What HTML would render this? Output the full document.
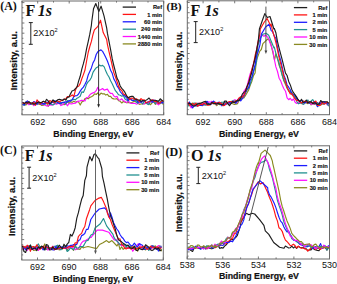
<!DOCTYPE html>
<html><head><meta charset="utf-8"><style>
html,body{margin:0;padding:0;background:#fff;width:337px;height:284px;overflow:hidden}
svg{display:block;font-family:"Liberation Sans", sans-serif}
</style></head><body>
<svg width="337" height="284" viewBox="0 0 337 284">
<rect x="22.0" y="1.0" width="141.7" height="113.8" fill="none" stroke="#6a6a6a" stroke-width="1"/>
<line x1="22.0" y1="114.8" x2="22.0" y2="113.2" stroke="#6a6a6a" stroke-width="0.9"/>
<line x1="22.0" y1="1.0" x2="22.0" y2="2.6" stroke="#6a6a6a" stroke-width="0.9"/>
<line x1="37.7" y1="114.8" x2="37.7" y2="112.3" stroke="#6a6a6a" stroke-width="0.9"/>
<line x1="37.7" y1="1.0" x2="37.7" y2="3.5" stroke="#6a6a6a" stroke-width="0.9"/>
<text x="37.7" y="124.7" font-size="9" text-anchor="middle" fill="#111">692</text>
<line x1="53.5" y1="114.8" x2="53.5" y2="113.2" stroke="#6a6a6a" stroke-width="0.9"/>
<line x1="53.5" y1="1.0" x2="53.5" y2="2.6" stroke="#6a6a6a" stroke-width="0.9"/>
<line x1="69.2" y1="114.8" x2="69.2" y2="112.3" stroke="#6a6a6a" stroke-width="0.9"/>
<line x1="69.2" y1="1.0" x2="69.2" y2="3.5" stroke="#6a6a6a" stroke-width="0.9"/>
<text x="69.2" y="124.7" font-size="9" text-anchor="middle" fill="#111">690</text>
<line x1="85.0" y1="114.8" x2="85.0" y2="113.2" stroke="#6a6a6a" stroke-width="0.9"/>
<line x1="85.0" y1="1.0" x2="85.0" y2="2.6" stroke="#6a6a6a" stroke-width="0.9"/>
<line x1="100.7" y1="114.8" x2="100.7" y2="112.3" stroke="#6a6a6a" stroke-width="0.9"/>
<line x1="100.7" y1="1.0" x2="100.7" y2="3.5" stroke="#6a6a6a" stroke-width="0.9"/>
<text x="100.7" y="124.7" font-size="9" text-anchor="middle" fill="#111">688</text>
<line x1="116.5" y1="114.8" x2="116.5" y2="113.2" stroke="#6a6a6a" stroke-width="0.9"/>
<line x1="116.5" y1="1.0" x2="116.5" y2="2.6" stroke="#6a6a6a" stroke-width="0.9"/>
<line x1="132.2" y1="114.8" x2="132.2" y2="112.3" stroke="#6a6a6a" stroke-width="0.9"/>
<line x1="132.2" y1="1.0" x2="132.2" y2="3.5" stroke="#6a6a6a" stroke-width="0.9"/>
<text x="132.2" y="124.7" font-size="9" text-anchor="middle" fill="#111">686</text>
<line x1="148.0" y1="114.8" x2="148.0" y2="113.2" stroke="#6a6a6a" stroke-width="0.9"/>
<line x1="148.0" y1="1.0" x2="148.0" y2="2.6" stroke="#6a6a6a" stroke-width="0.9"/>
<line x1="163.7" y1="114.8" x2="163.7" y2="112.3" stroke="#6a6a6a" stroke-width="0.9"/>
<line x1="163.7" y1="1.0" x2="163.7" y2="3.5" stroke="#6a6a6a" stroke-width="0.9"/>
<text x="163.7" y="124.7" font-size="9" text-anchor="middle" fill="#111">684</text>
<line x1="22.0" y1="2.6" x2="24.4" y2="2.6" stroke="#6a6a6a" stroke-width="0.9"/>
<line x1="22.0" y1="7.7" x2="23.4" y2="7.7" stroke="#6a6a6a" stroke-width="0.9"/>
<line x1="22.0" y1="12.8" x2="24.4" y2="12.8" stroke="#6a6a6a" stroke-width="0.9"/>
<line x1="22.0" y1="17.9" x2="23.4" y2="17.9" stroke="#6a6a6a" stroke-width="0.9"/>
<line x1="22.0" y1="23.0" x2="24.4" y2="23.0" stroke="#6a6a6a" stroke-width="0.9"/>
<line x1="22.0" y1="28.1" x2="23.4" y2="28.1" stroke="#6a6a6a" stroke-width="0.9"/>
<line x1="22.0" y1="33.2" x2="24.4" y2="33.2" stroke="#6a6a6a" stroke-width="0.9"/>
<line x1="22.0" y1="38.3" x2="23.4" y2="38.3" stroke="#6a6a6a" stroke-width="0.9"/>
<line x1="22.0" y1="43.4" x2="24.4" y2="43.4" stroke="#6a6a6a" stroke-width="0.9"/>
<line x1="22.0" y1="48.5" x2="23.4" y2="48.5" stroke="#6a6a6a" stroke-width="0.9"/>
<line x1="22.0" y1="53.6" x2="24.4" y2="53.6" stroke="#6a6a6a" stroke-width="0.9"/>
<line x1="22.0" y1="58.7" x2="23.4" y2="58.7" stroke="#6a6a6a" stroke-width="0.9"/>
<line x1="22.0" y1="63.8" x2="24.4" y2="63.8" stroke="#6a6a6a" stroke-width="0.9"/>
<line x1="22.0" y1="68.9" x2="23.4" y2="68.9" stroke="#6a6a6a" stroke-width="0.9"/>
<line x1="22.0" y1="74.0" x2="24.4" y2="74.0" stroke="#6a6a6a" stroke-width="0.9"/>
<line x1="22.0" y1="79.1" x2="23.4" y2="79.1" stroke="#6a6a6a" stroke-width="0.9"/>
<line x1="22.0" y1="84.2" x2="24.4" y2="84.2" stroke="#6a6a6a" stroke-width="0.9"/>
<line x1="22.0" y1="89.3" x2="23.4" y2="89.3" stroke="#6a6a6a" stroke-width="0.9"/>
<line x1="22.0" y1="94.4" x2="24.4" y2="94.4" stroke="#6a6a6a" stroke-width="0.9"/>
<line x1="22.0" y1="99.5" x2="23.4" y2="99.5" stroke="#6a6a6a" stroke-width="0.9"/>
<line x1="22.0" y1="104.6" x2="24.4" y2="104.6" stroke="#6a6a6a" stroke-width="0.9"/>
<line x1="22.0" y1="109.7" x2="23.4" y2="109.7" stroke="#6a6a6a" stroke-width="0.9"/>
<text x="93.3" y="137.3" font-size="8.8" font-weight="bold" text-anchor="middle" fill="#111" stroke="#111" stroke-width="0.2">Binding Energy, eV</text>
<text transform="translate(17.3,60.7) rotate(-90)" font-size="9.40" font-weight="bold" text-anchor="middle" fill="#111" stroke="#111" stroke-width="0.2">Intensity, a.u.</text>
<polyline fill="none" stroke="#8a8a22" stroke-width="1.15" stroke-linejoin="round" points="22.6,102.6 24.2,104.0 25.8,105.1 27.4,103.6 29.0,102.3 30.6,103.4 32.2,104.3 33.8,105.1 35.4,102.8 37.0,102.1 38.6,104.2 40.2,104.4 41.8,105.5 43.4,105.2 45.0,103.8 46.6,103.3 48.2,106.3 49.8,104.0 51.4,102.7 53.0,102.1 54.6,103.3 56.2,103.7 57.8,103.2 59.4,103.3 61.0,103.7 62.6,104.2 64.2,104.7 65.8,103.8 67.4,101.4 69.0,103.4 70.6,101.7 72.2,102.4 73.8,101.1 75.4,102.2 77.0,101.4 78.6,102.0 80.2,105.1 81.8,101.9 83.4,101.3 85.0,98.6 86.6,98.3 88.2,98.8 89.8,97.4 91.4,96.8 93.0,95.8 94.6,93.8 96.2,94.5 97.8,92.9 99.4,95.1 101.0,93.1 102.6,93.9 104.2,93.8 105.8,95.1 107.4,94.3 109.0,96.4 110.6,96.4 112.2,98.4 113.8,98.9 115.4,99.0 117.0,98.6 118.6,100.7 120.2,101.3 121.8,103.0 123.4,101.5 125.0,102.3 126.6,102.7 128.2,102.6 129.8,102.6 131.4,102.7 133.0,101.9 134.6,101.3 136.2,101.9 137.8,103.1 139.4,104.4 141.0,104.0 142.6,104.0 144.2,103.7 145.8,103.5 147.4,102.9 149.0,103.4 150.6,104.7 152.2,102.7 153.8,101.7 155.4,104.4 157.0,103.3 158.6,103.6 160.2,103.7 161.8,101.5 163.4,104.8"/>
<polyline fill="none" stroke="#ff10ff" stroke-width="1.15" stroke-linejoin="round" points="22.6,102.4 24.2,103.8 25.8,103.7 27.4,103.3 29.0,104.8 30.6,104.2 32.2,103.5 33.8,105.7 35.4,103.7 37.0,102.3 38.6,101.9 40.2,102.8 41.8,104.3 43.4,104.8 45.0,105.1 46.6,105.9 48.2,106.0 49.8,104.8 51.4,105.2 53.0,104.6 54.6,103.1 56.2,104.3 57.8,103.8 59.4,103.3 61.0,105.6 62.6,104.8 64.2,103.0 65.8,103.1 67.4,105.8 69.0,103.5 70.6,103.8 72.2,103.8 73.8,103.4 75.4,103.2 77.0,101.8 78.6,101.1 80.2,100.9 81.8,100.2 83.4,100.6 85.0,100.9 86.6,97.5 88.2,97.3 89.8,94.9 91.4,93.5 93.0,92.9 94.6,92.3 96.2,90.7 97.8,87.3 99.4,90.5 101.0,89.4 102.6,88.5 104.2,90.1 105.8,89.6 107.4,89.1 109.0,91.9 110.6,93.5 112.2,93.3 113.8,95.9 115.4,97.0 117.0,96.3 118.6,100.0 120.2,100.0 121.8,98.8 123.4,100.8 125.0,101.4 126.6,102.6 128.2,100.6 129.8,102.8 131.4,103.5 133.0,103.4 134.6,103.3 136.2,104.1 137.8,103.7 139.4,102.9 141.0,101.7 142.6,103.6 144.2,104.0 145.8,103.2 147.4,102.8 149.0,103.4 150.6,100.0 152.2,102.2 153.8,99.9 155.4,102.1 157.0,103.8 158.6,104.9 160.2,102.5 161.8,102.8 163.4,102.5"/>
<polyline fill="none" stroke="#219090" stroke-width="1.15" stroke-linejoin="round" points="22.6,103.6 24.2,105.3 25.8,103.2 27.4,101.5 29.0,103.4 30.6,104.3 32.2,104.2 33.8,104.2 35.4,103.5 37.0,102.8 38.6,102.5 40.2,103.0 41.8,102.9 43.4,104.3 45.0,104.2 46.6,102.1 48.2,103.6 49.8,103.3 51.4,104.3 53.0,105.0 54.6,104.0 56.2,101.1 57.8,103.0 59.4,101.2 61.0,103.9 62.6,102.2 64.2,102.0 65.8,104.1 67.4,100.5 69.0,101.2 70.6,100.1 72.2,99.9 73.8,99.2 75.4,99.9 77.0,98.2 78.6,97.4 80.2,96.3 81.8,91.9 83.4,92.4 85.0,88.9 86.6,84.1 88.2,81.6 89.8,80.3 91.4,77.5 93.0,72.4 94.6,69.9 96.2,67.8 97.8,67.0 99.4,65.0 101.0,66.0 102.6,65.4 104.2,66.9 105.8,71.1 107.4,74.5 109.0,77.0 110.6,80.8 112.2,83.8 113.8,87.3 115.4,90.7 117.0,92.5 118.6,94.8 120.2,95.3 121.8,96.2 123.4,95.4 125.0,98.9 126.6,99.9 128.2,100.9 129.8,98.8 131.4,100.0 133.0,100.6 134.6,99.4 136.2,102.1 137.8,103.3 139.4,100.8 141.0,102.0 142.6,104.0 144.2,101.1 145.8,102.8 147.4,104.1 149.0,104.6 150.6,101.1 152.2,100.6 153.8,102.1 155.4,103.6 157.0,101.1 158.6,101.0 160.2,100.8 161.8,103.1 163.4,101.9"/>
<polyline fill="none" stroke="#1c1cff" stroke-width="1.15" stroke-linejoin="round" points="22.6,104.8 24.2,104.9 25.8,102.2 27.4,100.9 29.0,102.7 30.6,104.1 32.2,103.3 33.8,101.6 35.4,102.3 37.0,104.6 38.6,102.0 40.2,103.8 41.8,103.8 43.4,103.6 45.0,103.8 46.6,102.4 48.2,102.4 49.8,104.5 51.4,102.6 53.0,101.9 54.6,100.7 56.2,101.4 57.8,102.8 59.4,103.5 61.0,102.9 62.6,102.5 64.2,102.3 65.8,101.7 67.4,102.1 69.0,100.6 70.6,101.1 72.2,99.6 73.8,96.8 75.4,95.7 77.0,95.6 78.6,94.0 80.2,91.1 81.8,88.9 83.4,87.1 85.0,84.2 86.6,80.9 88.2,75.0 89.8,71.5 91.4,67.9 93.0,62.9 94.6,60.0 96.2,54.5 97.8,51.7 99.4,50.6 101.0,49.9 102.6,51.4 104.2,54.3 105.8,57.5 107.4,61.0 109.0,65.4 110.6,70.3 112.2,73.3 113.8,78.9 115.4,81.8 117.0,85.8 118.6,88.1 120.2,91.6 121.8,93.5 123.4,95.1 125.0,96.0 126.6,97.8 128.2,100.4 129.8,97.8 131.4,99.9 133.0,100.5 134.6,100.1 136.2,99.2 137.8,102.2 139.4,101.6 141.0,102.2 142.6,101.1 144.2,100.4 145.8,102.3 147.4,102.5 149.0,101.4 150.6,101.3 152.2,102.2 153.8,101.0 155.4,100.6 157.0,101.5 158.6,102.8 160.2,102.9 161.8,102.2 163.4,103.3"/>
<polyline fill="none" stroke="#ff1414" stroke-width="1.15" stroke-linejoin="round" points="22.6,103.4 24.2,103.2 25.8,103.1 27.4,102.4 29.0,103.1 30.6,103.0 32.2,104.1 33.8,102.0 35.4,105.3 37.0,99.9 38.6,101.8 40.2,103.6 41.8,102.5 43.4,101.5 45.0,102.0 46.6,102.9 48.2,103.6 49.8,100.6 51.4,101.6 53.0,101.0 54.6,102.5 56.2,101.0 57.8,101.1 59.4,102.1 61.0,100.6 62.6,100.5 64.2,99.1 65.8,98.9 67.4,96.6 69.0,96.6 70.6,96.3 72.2,94.9 73.8,96.5 75.4,90.3 77.0,86.6 78.6,86.2 80.2,83.6 81.8,78.7 83.4,74.6 85.0,70.0 86.6,61.0 88.2,52.5 89.8,46.5 91.4,41.4 93.0,34.4 94.4,29.9 97.9,26.4 100.5,20.2 103.2,32.6 106.7,39.6 107.4,44.3 109.0,51.6 110.6,58.4 112.2,65.5 113.8,72.6 115.4,76.8 117.0,81.5 118.6,86.4 120.2,89.3 121.8,90.6 123.4,94.0 125.0,94.7 126.6,95.8 128.2,97.4 129.8,99.7 131.4,98.0 133.0,98.4 134.6,99.5 136.2,98.8 137.8,99.8 139.4,101.6 141.0,98.6 142.6,100.0 144.2,99.8 145.8,102.8 147.4,102.0 149.0,101.7 150.6,101.0 152.2,99.8 153.8,100.9 155.4,101.6 157.0,101.3 158.6,103.3 160.2,102.7 161.8,100.5 163.4,100.7"/>
<polyline fill="none" stroke="#1e1e1e" stroke-width="1.15" stroke-linejoin="round" points="22.6,102.2 24.2,103.7 25.8,102.1 27.4,103.2 29.0,101.6 30.6,103.2 32.2,102.8 33.8,104.1 35.4,103.8 37.0,102.7 38.6,102.0 40.2,102.6 41.8,102.2 43.4,101.1 45.0,102.3 46.6,99.3 48.2,100.9 49.8,103.7 51.4,102.4 53.0,99.8 54.6,101.7 56.2,101.2 57.8,99.8 59.4,99.3 61.0,99.8 62.6,100.3 64.2,99.0 65.8,100.1 67.4,97.2 69.0,97.1 70.6,93.6 72.2,90.8 73.8,90.5 75.4,88.7 77.0,87.1 78.6,81.1 80.2,76.3 81.8,69.2 83.4,63.7 85.0,57.3 86.6,48.6 88.2,41.7 89.8,34.2 91.4,25.3 91.7,22.0 93.5,8.8 95.8,3.5 98.8,11.4 101.1,6.2 104.0,15.8 106.7,28.2 107.4,33.2 109.0,41.3 110.6,49.6 112.2,58.7 113.8,65.5 115.4,71.7 117.0,78.1 118.6,81.0 120.2,86.2 121.8,88.3 123.4,90.1 125.0,92.4 126.6,95.8 128.2,98.1 129.8,96.8 131.4,96.4 133.0,96.3 134.6,98.4 136.2,99.6 137.8,100.0 139.4,100.0 141.0,101.4 142.6,100.5 144.2,100.7 145.8,100.2 147.4,99.4 149.0,98.0 150.6,100.1 152.2,100.2 153.8,100.2 155.4,100.2 157.0,100.9 158.6,101.2 160.2,98.8 161.8,100.2 163.4,101.6"/>
<line x1="98.6" y1="2.0" x2="98.6" y2="105.8" stroke="#222" stroke-width="0.9"/>
<path d="M97.2,104.2 L100.0,104.2 L98.6,107.8 Z" fill="#222"/>
<line x1="122.7" y1="7.1" x2="136.0" y2="7.1" stroke="#1e1e1e" stroke-width="1.3"/>
<text x="162.1" y="9.2" font-size="5.7" font-weight="bold" text-anchor="end" fill="#111" stroke="#111" stroke-width="0.15">Ref</text>
<line x1="122.7" y1="14.4" x2="136.0" y2="14.4" stroke="#ff1414" stroke-width="1.3"/>
<text x="162.1" y="16.6" font-size="5.7" font-weight="bold" text-anchor="end" fill="#111" stroke="#111" stroke-width="0.15">1 min</text>
<line x1="122.7" y1="21.8" x2="136.0" y2="21.8" stroke="#1c1cff" stroke-width="1.3"/>
<text x="162.1" y="23.9" font-size="5.7" font-weight="bold" text-anchor="end" fill="#111" stroke="#111" stroke-width="0.15">60 min</text>
<line x1="122.7" y1="29.2" x2="136.0" y2="29.2" stroke="#219090" stroke-width="1.3"/>
<text x="162.1" y="31.3" font-size="5.7" font-weight="bold" text-anchor="end" fill="#111" stroke="#111" stroke-width="0.15">240 min</text>
<line x1="122.7" y1="36.5" x2="136.0" y2="36.5" stroke="#ff10ff" stroke-width="1.3"/>
<text x="162.1" y="38.6" font-size="5.7" font-weight="bold" text-anchor="end" fill="#111" stroke="#111" stroke-width="0.15">1440 min</text>
<line x1="122.7" y1="43.9" x2="136.0" y2="43.9" stroke="#8a8a22" stroke-width="1.3"/>
<text x="162.1" y="46.0" font-size="5.7" font-weight="bold" text-anchor="end" fill="#111" stroke="#111" stroke-width="0.15">2880 min</text>
<line x1="30.8" y1="22.6" x2="30.8" y2="44.3" stroke="#222" stroke-width="1"/>
<line x1="28.8" y1="22.6" x2="32.8" y2="22.6" stroke="#222" stroke-width="1"/>
<line x1="28.8" y1="44.3" x2="32.8" y2="44.3" stroke="#222" stroke-width="1"/>
<text x="33.3" y="36.0" font-size="9.1" fill="#111">2X10<tspan font-size="5.6" dy="-3.6">2</tspan></text>
<text x="0.2" y="9.5" font-family='"Liberation Serif", serif' font-size="12.0" font-weight="bold" fill="#111">(A)</text>
<text x="25.5" y="16.0" font-family='"Liberation Serif", serif' font-size="16" font-weight="bold" fill="#111">F</text>
<text x="37.8" y="16.0" font-family='"Liberation Serif", serif' font-size="16" font-weight="bold" font-style="italic" fill="#111">1s</text>
<rect x="187.3" y="0.8" width="142.2" height="113.9" fill="none" stroke="#6a6a6a" stroke-width="1"/>
<line x1="187.3" y1="114.7" x2="187.3" y2="113.1" stroke="#6a6a6a" stroke-width="0.9"/>
<line x1="187.3" y1="0.8" x2="187.3" y2="2.4" stroke="#6a6a6a" stroke-width="0.9"/>
<line x1="203.1" y1="114.7" x2="203.1" y2="112.2" stroke="#6a6a6a" stroke-width="0.9"/>
<line x1="203.1" y1="0.8" x2="203.1" y2="3.3" stroke="#6a6a6a" stroke-width="0.9"/>
<text x="203.1" y="124.6" font-size="9" text-anchor="middle" fill="#111">692</text>
<line x1="218.9" y1="114.7" x2="218.9" y2="113.1" stroke="#6a6a6a" stroke-width="0.9"/>
<line x1="218.9" y1="0.8" x2="218.9" y2="2.4" stroke="#6a6a6a" stroke-width="0.9"/>
<line x1="234.7" y1="114.7" x2="234.7" y2="112.2" stroke="#6a6a6a" stroke-width="0.9"/>
<line x1="234.7" y1="0.8" x2="234.7" y2="3.3" stroke="#6a6a6a" stroke-width="0.9"/>
<text x="234.7" y="124.6" font-size="9" text-anchor="middle" fill="#111">690</text>
<line x1="250.5" y1="114.7" x2="250.5" y2="113.1" stroke="#6a6a6a" stroke-width="0.9"/>
<line x1="250.5" y1="0.8" x2="250.5" y2="2.4" stroke="#6a6a6a" stroke-width="0.9"/>
<line x1="266.3" y1="114.7" x2="266.3" y2="112.2" stroke="#6a6a6a" stroke-width="0.9"/>
<line x1="266.3" y1="0.8" x2="266.3" y2="3.3" stroke="#6a6a6a" stroke-width="0.9"/>
<text x="266.3" y="124.6" font-size="9" text-anchor="middle" fill="#111">688</text>
<line x1="282.1" y1="114.7" x2="282.1" y2="113.1" stroke="#6a6a6a" stroke-width="0.9"/>
<line x1="282.1" y1="0.8" x2="282.1" y2="2.4" stroke="#6a6a6a" stroke-width="0.9"/>
<line x1="297.9" y1="114.7" x2="297.9" y2="112.2" stroke="#6a6a6a" stroke-width="0.9"/>
<line x1="297.9" y1="0.8" x2="297.9" y2="3.3" stroke="#6a6a6a" stroke-width="0.9"/>
<text x="297.9" y="124.6" font-size="9" text-anchor="middle" fill="#111">686</text>
<line x1="313.7" y1="114.7" x2="313.7" y2="113.1" stroke="#6a6a6a" stroke-width="0.9"/>
<line x1="313.7" y1="0.8" x2="313.7" y2="2.4" stroke="#6a6a6a" stroke-width="0.9"/>
<line x1="329.5" y1="114.7" x2="329.5" y2="112.2" stroke="#6a6a6a" stroke-width="0.9"/>
<line x1="329.5" y1="0.8" x2="329.5" y2="3.3" stroke="#6a6a6a" stroke-width="0.9"/>
<text x="329.5" y="124.6" font-size="9" text-anchor="middle" fill="#111">684</text>
<line x1="187.3" y1="2.5" x2="189.7" y2="2.5" stroke="#6a6a6a" stroke-width="0.9"/>
<line x1="187.3" y1="7.6" x2="188.7" y2="7.6" stroke="#6a6a6a" stroke-width="0.9"/>
<line x1="187.3" y1="12.7" x2="189.7" y2="12.7" stroke="#6a6a6a" stroke-width="0.9"/>
<line x1="187.3" y1="17.8" x2="188.7" y2="17.8" stroke="#6a6a6a" stroke-width="0.9"/>
<line x1="187.3" y1="22.9" x2="189.7" y2="22.9" stroke="#6a6a6a" stroke-width="0.9"/>
<line x1="187.3" y1="28.0" x2="188.7" y2="28.0" stroke="#6a6a6a" stroke-width="0.9"/>
<line x1="187.3" y1="33.1" x2="189.7" y2="33.1" stroke="#6a6a6a" stroke-width="0.9"/>
<line x1="187.3" y1="38.2" x2="188.7" y2="38.2" stroke="#6a6a6a" stroke-width="0.9"/>
<line x1="187.3" y1="43.3" x2="189.7" y2="43.3" stroke="#6a6a6a" stroke-width="0.9"/>
<line x1="187.3" y1="48.4" x2="188.7" y2="48.4" stroke="#6a6a6a" stroke-width="0.9"/>
<line x1="187.3" y1="53.5" x2="189.7" y2="53.5" stroke="#6a6a6a" stroke-width="0.9"/>
<line x1="187.3" y1="58.6" x2="188.7" y2="58.6" stroke="#6a6a6a" stroke-width="0.9"/>
<line x1="187.3" y1="63.7" x2="189.7" y2="63.7" stroke="#6a6a6a" stroke-width="0.9"/>
<line x1="187.3" y1="68.8" x2="188.7" y2="68.8" stroke="#6a6a6a" stroke-width="0.9"/>
<line x1="187.3" y1="73.9" x2="189.7" y2="73.9" stroke="#6a6a6a" stroke-width="0.9"/>
<line x1="187.3" y1="79.0" x2="188.7" y2="79.0" stroke="#6a6a6a" stroke-width="0.9"/>
<line x1="187.3" y1="84.1" x2="189.7" y2="84.1" stroke="#6a6a6a" stroke-width="0.9"/>
<line x1="187.3" y1="89.2" x2="188.7" y2="89.2" stroke="#6a6a6a" stroke-width="0.9"/>
<line x1="187.3" y1="94.3" x2="189.7" y2="94.3" stroke="#6a6a6a" stroke-width="0.9"/>
<line x1="187.3" y1="99.4" x2="188.7" y2="99.4" stroke="#6a6a6a" stroke-width="0.9"/>
<line x1="187.3" y1="104.5" x2="189.7" y2="104.5" stroke="#6a6a6a" stroke-width="0.9"/>
<line x1="187.3" y1="109.6" x2="188.7" y2="109.6" stroke="#6a6a6a" stroke-width="0.9"/>
<text x="258.9" y="137.2" font-size="8.8" font-weight="bold" text-anchor="middle" fill="#111" stroke="#111" stroke-width="0.2">Binding Energy, eV</text>
<text transform="translate(182.1,61.2) rotate(-90)" font-size="9.40" font-weight="bold" text-anchor="middle" fill="#111" stroke="#111" stroke-width="0.2">Intensity, a.u.</text>
<polyline fill="none" stroke="#8a8a22" stroke-width="1.15" stroke-linejoin="round" points="187.9,105.0 189.5,105.8 191.1,103.7 192.7,103.0 194.3,104.3 195.9,106.1 197.5,105.0 199.1,103.0 200.7,103.0 202.3,103.8 203.9,105.0 205.5,104.3 207.1,103.6 208.7,103.6 210.3,104.1 211.9,103.2 213.5,103.7 215.1,104.1 216.7,105.6 218.3,104.1 219.9,104.7 221.5,102.8 223.1,104.2 224.7,103.9 226.3,102.9 227.9,103.1 229.5,104.1 231.1,102.9 232.7,103.8 234.3,104.4 235.9,104.2 237.5,103.7 239.1,100.0 240.7,100.0 242.3,98.1 243.9,98.0 245.5,95.4 247.1,92.8 248.7,89.9 250.3,85.1 251.9,81.2 253.5,75.6 255.1,73.0 256.5,60.0 259.8,51.1 261.3,49.5 262.9,43.7 265.0,41.6 267.7,39.0 269.3,40.0 270.8,43.7 273.0,53.2 274.5,60.0 275.9,53.7 277.5,58.4 279.1,65.3 280.7,69.4 282.3,75.4 283.9,81.1 285.5,84.4 287.1,88.3 288.7,91.2 290.3,93.0 291.9,92.4 293.5,95.5 295.1,98.7 296.7,98.4 298.3,99.9 299.9,101.7 301.5,103.6 303.1,101.3 304.7,101.8 306.3,103.0 307.9,103.7 309.5,101.9 311.1,105.0 312.7,103.1 314.3,104.5 315.9,103.7 317.5,104.0 319.1,105.6 320.7,104.9 322.3,104.1 323.9,102.8 325.5,102.9 327.1,102.2 328.7,105.7"/>
<polyline fill="none" stroke="#ff10ff" stroke-width="1.15" stroke-linejoin="round" points="187.9,104.7 189.5,104.1 191.1,107.9 192.7,105.6 194.3,104.4 195.9,104.6 197.5,103.6 199.1,103.1 200.7,104.4 202.3,103.6 203.9,104.7 205.5,103.9 207.1,101.8 208.7,101.8 210.3,102.4 211.9,101.3 213.5,103.1 215.1,103.3 216.7,104.6 218.3,102.8 219.9,103.0 221.5,104.0 223.1,104.3 224.7,102.2 226.3,104.5 227.9,102.6 229.5,103.8 231.1,102.3 232.7,101.3 234.3,99.8 235.9,100.1 237.5,102.2 239.1,98.2 240.7,98.0 242.3,96.2 243.9,91.4 245.5,89.2 247.1,86.0 248.7,79.5 250.3,73.5 251.9,69.7 253.5,63.3 255.1,59.0 256.6,51.1 258.7,39.5 261.9,34.8 264.0,36.3 265.6,34.8 268.2,37.9 273.0,51.1 274.3,59.2 275.9,66.9 277.5,71.5 279.1,78.2 280.7,80.9 282.3,85.3 283.9,88.8 285.5,91.2 287.1,97.8 288.7,99.7 290.3,98.3 291.9,100.5 293.5,98.9 295.1,102.3 296.7,103.5 298.3,102.2 299.9,102.1 301.5,103.0 303.1,103.6 304.7,102.9 306.3,102.2 307.9,102.8 309.5,102.9 311.1,104.3 312.7,103.9 314.3,103.9 315.9,101.9 317.5,102.8 319.1,103.2 320.7,103.1 322.3,103.6 323.9,103.5 325.5,102.1 327.1,104.6 328.7,105.3"/>
<polyline fill="none" stroke="#219090" stroke-width="1.15" stroke-linejoin="round" points="187.9,106.5 189.5,103.5 191.1,104.2 192.7,103.9 194.3,103.1 195.9,103.2 197.5,103.3 199.1,103.8 200.7,104.4 202.3,105.2 203.9,104.5 205.5,105.2 207.1,104.7 208.7,104.1 210.3,103.6 211.9,102.6 213.5,101.7 215.1,103.1 216.7,103.4 218.3,103.8 219.9,103.9 221.5,102.2 223.1,102.2 224.7,101.9 226.3,103.9 227.9,103.2 229.5,103.0 231.1,101.8 232.7,100.8 234.3,101.1 235.9,101.4 237.5,101.5 239.1,98.7 240.7,99.1 242.3,96.9 243.9,95.1 245.5,93.0 247.1,90.0 248.7,87.4 250.3,83.9 251.9,78.6 253.5,72.1 255.1,67.0 256.7,61.0 258.0,45.0 260.5,38.0 262.9,34.2 266.1,33.2 268.7,35.3 274.0,48.0 274.3,47.1 275.9,53.4 277.5,58.8 279.1,62.8 280.7,69.3 282.3,75.5 283.9,80.3 285.5,82.5 287.1,87.8 288.7,90.5 290.3,91.2 291.9,94.6 293.5,95.3 295.1,97.0 296.7,101.2 298.3,103.8 299.9,103.2 301.5,102.6 303.1,104.4 304.7,103.4 306.3,101.8 307.9,100.0 309.5,103.4 311.1,101.0 312.7,99.6 314.3,101.9 315.9,103.3 317.5,102.6 319.1,104.4 320.7,103.7 322.3,103.8 323.9,104.2 325.5,103.2 327.1,103.8 328.7,106.3"/>
<polyline fill="none" stroke="#1c1cff" stroke-width="1.15" stroke-linejoin="round" points="187.9,103.6 189.5,102.0 191.1,105.2 192.7,108.0 194.3,105.5 195.9,105.7 197.5,105.9 199.1,105.4 200.7,105.2 202.3,105.6 203.9,104.0 205.5,102.0 207.1,101.4 208.7,104.1 210.3,104.5 211.9,103.8 213.5,101.0 215.1,102.7 216.7,103.4 218.3,102.3 219.9,102.3 221.5,105.7 223.1,105.5 224.7,104.5 226.3,103.7 227.9,102.6 229.5,102.3 231.1,103.4 232.7,101.6 234.3,101.6 235.9,103.5 237.5,100.0 239.1,98.9 240.7,101.0 242.3,98.7 243.9,96.2 245.5,92.6 247.1,88.6 248.7,87.8 250.3,79.7 251.9,77.0 253.5,70.8 255.1,64.6 256.7,55.4 258.3,51.2 259.9,44.8 261.4,34.1 265.6,27.0 269.1,24.2 271.2,30.6 272.7,31.7 274.3,36.2 275.9,38.4 277.5,47.5 279.1,55.2 280.7,60.3 282.3,67.6 283.9,75.2 285.5,79.1 287.1,85.0 288.7,87.2 290.3,89.7 291.9,93.6 293.5,94.8 295.1,95.2 296.7,98.8 298.3,100.1 299.9,101.5 301.5,100.5 303.1,101.1 304.7,102.7 306.3,102.1 307.9,102.3 309.5,103.1 311.1,102.2 312.7,103.2 314.3,101.6 315.9,103.5 317.5,106.7 319.1,105.0 320.7,103.2 322.3,101.5 323.9,101.8 325.5,103.0 327.1,102.7 328.7,104.1"/>
<polyline fill="none" stroke="#ff1414" stroke-width="1.15" stroke-linejoin="round" points="187.9,102.3 189.5,105.3 191.1,104.9 192.7,103.5 194.3,104.9 195.9,103.1 197.5,106.3 199.1,105.3 200.7,104.0 202.3,104.8 203.9,102.8 205.5,104.1 207.1,105.1 208.7,105.2 210.3,104.6 211.9,102.7 213.5,103.7 215.1,102.2 216.7,103.4 218.3,102.9 219.9,102.4 221.5,104.0 223.1,105.7 224.7,105.4 226.3,103.0 227.9,102.3 229.5,101.5 231.1,101.5 232.7,102.1 234.3,102.2 235.9,100.7 237.5,100.2 239.1,97.9 240.7,96.8 242.3,97.2 243.9,95.3 245.5,91.3 247.1,86.8 248.7,82.3 250.3,76.0 251.9,69.1 253.5,64.1 255.1,55.5 256.7,49.1 258.3,40.3 259.9,34.0 260.3,29.0 264.0,22.5 267.1,18.4 271.0,26.2 271.1,24.0 272.7,31.5 274.3,36.5 275.9,42.7 277.5,49.8 279.1,57.6 280.7,63.7 282.3,69.8 283.9,76.6 285.5,81.7 287.1,87.1 288.7,90.5 290.3,93.9 291.9,93.9 293.5,96.6 295.1,98.9 296.7,100.6 298.3,100.3 299.9,101.7 301.5,103.0 303.1,101.3 304.7,101.2 306.3,101.5 307.9,102.8 309.5,101.8 311.1,102.8 312.7,102.6 314.3,102.0 315.9,101.1 317.5,105.4 319.1,105.5 320.7,105.0 322.3,102.1 323.9,104.1 325.5,103.5 327.1,102.2 328.7,102.8"/>
<polyline fill="none" stroke="#1e1e1e" stroke-width="1.15" stroke-linejoin="round" points="187.9,104.0 189.5,103.3 191.1,104.2 192.7,105.5 194.3,106.1 195.9,105.0 197.5,104.1 199.1,103.6 200.7,103.3 202.3,102.5 203.9,101.7 205.5,101.3 207.1,104.3 208.7,103.9 210.3,104.7 211.9,102.3 213.5,103.4 215.1,103.5 216.7,104.1 218.3,103.2 219.9,104.2 221.5,104.5 223.1,104.8 224.7,101.1 226.3,101.0 227.9,103.9 229.5,105.7 231.1,103.5 232.7,101.7 234.3,102.7 235.9,101.5 237.5,100.4 239.1,100.6 240.7,98.1 242.3,94.1 243.9,92.4 245.5,91.1 247.1,86.3 248.7,82.8 250.3,77.0 251.9,72.0 253.5,64.5 255.1,58.5 256.7,49.9 258.3,41.0 259.4,29.0 262.5,20.0 264.8,13.6 267.2,17.5 270.0,16.5 273.9,29.0 274.3,28.5 275.9,32.8 277.5,41.6 279.1,48.1 280.7,54.2 282.3,60.2 283.9,66.7 285.5,73.2 287.1,75.5 288.7,81.4 290.3,84.9 291.9,89.8 293.5,92.7 295.1,94.8 296.7,97.1 298.3,100.0 299.9,101.7 301.5,99.3 303.1,102.4 304.7,102.0 306.3,100.0 307.9,103.1 309.5,101.9 311.1,101.7 312.7,103.6 314.3,102.9 315.9,103.1 317.5,104.5 319.1,103.9 320.7,100.5 322.3,102.2 323.9,101.8 325.5,101.7 327.1,101.7 328.7,103.4"/>
<line x1="265.9" y1="6.6" x2="265.9" y2="52.0" stroke="#444" stroke-width="0.9"/>
<path d="M264.5,50.4 L267.3,50.4 L265.9,54.0 Z" fill="#444"/>
<line x1="293.9" y1="7.6" x2="307.2" y2="7.6" stroke="#1e1e1e" stroke-width="1.3"/>
<text x="327.3" y="9.7" font-size="5.7" font-weight="bold" text-anchor="end" fill="#111" stroke="#111" stroke-width="0.15">Ref</text>
<line x1="293.9" y1="14.9" x2="307.2" y2="14.9" stroke="#ff1414" stroke-width="1.3"/>
<text x="327.3" y="17.1" font-size="5.7" font-weight="bold" text-anchor="end" fill="#111" stroke="#111" stroke-width="0.15">1 min</text>
<line x1="293.9" y1="22.3" x2="307.2" y2="22.3" stroke="#1c1cff" stroke-width="1.3"/>
<text x="327.3" y="24.4" font-size="5.7" font-weight="bold" text-anchor="end" fill="#111" stroke="#111" stroke-width="0.15">2 min</text>
<line x1="293.9" y1="29.6" x2="307.2" y2="29.6" stroke="#219090" stroke-width="1.3"/>
<text x="327.3" y="31.8" font-size="5.7" font-weight="bold" text-anchor="end" fill="#111" stroke="#111" stroke-width="0.15">5 min</text>
<line x1="293.9" y1="37.0" x2="307.2" y2="37.0" stroke="#ff10ff" stroke-width="1.3"/>
<text x="327.3" y="39.1" font-size="5.7" font-weight="bold" text-anchor="end" fill="#111" stroke="#111" stroke-width="0.15">10 min</text>
<line x1="293.9" y1="44.4" x2="307.2" y2="44.4" stroke="#8a8a22" stroke-width="1.3"/>
<text x="327.3" y="46.5" font-size="5.7" font-weight="bold" text-anchor="end" fill="#111" stroke="#111" stroke-width="0.15">30 min</text>
<line x1="195.7" y1="21.6" x2="195.7" y2="42.6" stroke="#222" stroke-width="1"/>
<line x1="193.7" y1="21.6" x2="197.7" y2="21.6" stroke="#222" stroke-width="1"/>
<line x1="193.7" y1="42.6" x2="197.7" y2="42.6" stroke="#222" stroke-width="1"/>
<text x="198.9" y="34.6" font-size="9.1" fill="#111">2X10<tspan font-size="5.6" dy="-3.6">2</tspan></text>
<text x="166.4" y="9.8" font-family='"Liberation Serif", serif' font-size="11.3" font-weight="bold" fill="#111">(B)</text>
<text x="190.6" y="16.0" font-family='"Liberation Serif", serif' font-size="16" font-weight="bold" fill="#111">F</text>
<text x="204.4" y="16.0" font-family='"Liberation Serif", serif' font-size="16" font-weight="bold" font-style="italic" fill="#111">1s</text>
<rect x="21.8" y="146.0" width="141.5" height="114.0" fill="none" stroke="#6a6a6a" stroke-width="1"/>
<line x1="21.8" y1="260.0" x2="21.8" y2="258.4" stroke="#6a6a6a" stroke-width="0.9"/>
<line x1="21.8" y1="146.0" x2="21.8" y2="147.6" stroke="#6a6a6a" stroke-width="0.9"/>
<line x1="37.5" y1="260.0" x2="37.5" y2="257.5" stroke="#6a6a6a" stroke-width="0.9"/>
<line x1="37.5" y1="146.0" x2="37.5" y2="148.5" stroke="#6a6a6a" stroke-width="0.9"/>
<text x="37.5" y="269.9" font-size="9" text-anchor="middle" fill="#111">692</text>
<line x1="53.2" y1="260.0" x2="53.2" y2="258.4" stroke="#6a6a6a" stroke-width="0.9"/>
<line x1="53.2" y1="146.0" x2="53.2" y2="147.6" stroke="#6a6a6a" stroke-width="0.9"/>
<line x1="69.0" y1="260.0" x2="69.0" y2="257.5" stroke="#6a6a6a" stroke-width="0.9"/>
<line x1="69.0" y1="146.0" x2="69.0" y2="148.5" stroke="#6a6a6a" stroke-width="0.9"/>
<text x="69.0" y="269.9" font-size="9" text-anchor="middle" fill="#111">690</text>
<line x1="84.7" y1="260.0" x2="84.7" y2="258.4" stroke="#6a6a6a" stroke-width="0.9"/>
<line x1="84.7" y1="146.0" x2="84.7" y2="147.6" stroke="#6a6a6a" stroke-width="0.9"/>
<line x1="100.4" y1="260.0" x2="100.4" y2="257.5" stroke="#6a6a6a" stroke-width="0.9"/>
<line x1="100.4" y1="146.0" x2="100.4" y2="148.5" stroke="#6a6a6a" stroke-width="0.9"/>
<text x="100.4" y="269.9" font-size="9" text-anchor="middle" fill="#111">688</text>
<line x1="116.1" y1="260.0" x2="116.1" y2="258.4" stroke="#6a6a6a" stroke-width="0.9"/>
<line x1="116.1" y1="146.0" x2="116.1" y2="147.6" stroke="#6a6a6a" stroke-width="0.9"/>
<line x1="131.9" y1="260.0" x2="131.9" y2="257.5" stroke="#6a6a6a" stroke-width="0.9"/>
<line x1="131.9" y1="146.0" x2="131.9" y2="148.5" stroke="#6a6a6a" stroke-width="0.9"/>
<text x="131.9" y="269.9" font-size="9" text-anchor="middle" fill="#111">686</text>
<line x1="147.6" y1="260.0" x2="147.6" y2="258.4" stroke="#6a6a6a" stroke-width="0.9"/>
<line x1="147.6" y1="146.0" x2="147.6" y2="147.6" stroke="#6a6a6a" stroke-width="0.9"/>
<line x1="163.3" y1="260.0" x2="163.3" y2="257.5" stroke="#6a6a6a" stroke-width="0.9"/>
<line x1="163.3" y1="146.0" x2="163.3" y2="148.5" stroke="#6a6a6a" stroke-width="0.9"/>
<text x="163.3" y="269.9" font-size="9" text-anchor="middle" fill="#111">684</text>
<line x1="21.8" y1="147.8" x2="24.2" y2="147.8" stroke="#6a6a6a" stroke-width="0.9"/>
<line x1="21.8" y1="152.9" x2="23.2" y2="152.9" stroke="#6a6a6a" stroke-width="0.9"/>
<line x1="21.8" y1="158.0" x2="24.2" y2="158.0" stroke="#6a6a6a" stroke-width="0.9"/>
<line x1="21.8" y1="163.1" x2="23.2" y2="163.1" stroke="#6a6a6a" stroke-width="0.9"/>
<line x1="21.8" y1="168.2" x2="24.2" y2="168.2" stroke="#6a6a6a" stroke-width="0.9"/>
<line x1="21.8" y1="173.3" x2="23.2" y2="173.3" stroke="#6a6a6a" stroke-width="0.9"/>
<line x1="21.8" y1="178.4" x2="24.2" y2="178.4" stroke="#6a6a6a" stroke-width="0.9"/>
<line x1="21.8" y1="183.5" x2="23.2" y2="183.5" stroke="#6a6a6a" stroke-width="0.9"/>
<line x1="21.8" y1="188.6" x2="24.2" y2="188.6" stroke="#6a6a6a" stroke-width="0.9"/>
<line x1="21.8" y1="193.7" x2="23.2" y2="193.7" stroke="#6a6a6a" stroke-width="0.9"/>
<line x1="21.8" y1="198.8" x2="24.2" y2="198.8" stroke="#6a6a6a" stroke-width="0.9"/>
<line x1="21.8" y1="203.9" x2="23.2" y2="203.9" stroke="#6a6a6a" stroke-width="0.9"/>
<line x1="21.8" y1="209.0" x2="24.2" y2="209.0" stroke="#6a6a6a" stroke-width="0.9"/>
<line x1="21.8" y1="214.1" x2="23.2" y2="214.1" stroke="#6a6a6a" stroke-width="0.9"/>
<line x1="21.8" y1="219.2" x2="24.2" y2="219.2" stroke="#6a6a6a" stroke-width="0.9"/>
<line x1="21.8" y1="224.3" x2="23.2" y2="224.3" stroke="#6a6a6a" stroke-width="0.9"/>
<line x1="21.8" y1="229.4" x2="24.2" y2="229.4" stroke="#6a6a6a" stroke-width="0.9"/>
<line x1="21.8" y1="234.5" x2="23.2" y2="234.5" stroke="#6a6a6a" stroke-width="0.9"/>
<line x1="21.8" y1="239.6" x2="24.2" y2="239.6" stroke="#6a6a6a" stroke-width="0.9"/>
<line x1="21.8" y1="244.7" x2="23.2" y2="244.7" stroke="#6a6a6a" stroke-width="0.9"/>
<line x1="21.8" y1="249.8" x2="24.2" y2="249.8" stroke="#6a6a6a" stroke-width="0.9"/>
<line x1="21.8" y1="254.9" x2="23.2" y2="254.9" stroke="#6a6a6a" stroke-width="0.9"/>
<text x="93.1" y="282.0" font-size="8.8" font-weight="bold" text-anchor="middle" fill="#111" stroke="#111" stroke-width="0.2">Binding Energy, eV</text>
<text transform="translate(15.0,206.4) rotate(-90)" font-size="9.40" font-weight="bold" text-anchor="middle" fill="#111" stroke="#111" stroke-width="0.2">Intensity, a.u.</text>
<polyline fill="none" stroke="#8a8a22" stroke-width="1.15" stroke-linejoin="round" points="22.4,248.7 24.0,248.2 25.6,246.3 27.2,248.9 28.8,248.8 30.4,248.6 32.0,248.4 33.6,250.4 35.2,250.0 36.8,250.2 38.4,248.1 40.0,247.3 41.6,246.3 43.2,247.3 44.8,243.9 46.4,249.5 48.0,248.9 49.6,248.2 51.2,249.4 52.8,247.8 54.4,248.3 56.0,249.3 57.6,246.0 59.2,250.0 60.8,248.9 62.4,249.0 64.0,246.7 65.6,246.7 67.2,250.3 68.8,247.9 70.4,247.2 72.0,248.6 73.6,250.4 75.2,244.9 76.8,249.3 78.4,249.0 80.0,249.4 81.6,246.7 83.2,247.9 84.0,247.5 88.0,246.5 92.0,247.5 96.5,248.6 99.5,244.5 103.0,242.8 106.6,240.6 109.0,242.5 111.9,240.6 117.0,246.0 118.4,243.2 120.0,249.5 121.6,246.8 123.2,249.4 124.8,248.0 126.4,247.3 128.0,248.5 129.6,246.8 131.2,246.4 132.8,247.4 134.4,247.4 136.0,249.0 137.6,251.2 139.2,247.0 140.8,246.3 142.4,248.8 144.0,249.1 145.6,249.9 147.2,247.3 148.8,248.7 150.4,248.2 152.0,245.6 153.6,248.1 155.2,245.8 156.8,248.3 158.4,247.6 160.0,247.6 161.6,251.2"/>
<polyline fill="none" stroke="#ff10ff" stroke-width="1.15" stroke-linejoin="round" points="22.4,248.9 24.0,248.7 25.6,247.1 27.2,250.6 28.8,246.5 30.4,247.5 32.0,249.4 33.6,249.3 35.2,249.2 36.8,246.8 38.4,250.4 40.0,247.7 41.6,247.7 43.2,248.0 44.8,248.0 46.4,247.3 48.0,250.1 49.6,248.7 51.2,249.5 52.8,246.1 54.4,248.3 56.0,248.0 57.6,248.5 59.2,248.5 60.8,248.7 62.4,248.0 64.0,248.1 65.6,248.2 67.2,248.3 68.8,248.0 70.4,247.2 72.0,248.1 73.6,246.3 75.2,249.8 76.8,248.7 78.4,248.7 80.0,245.9 81.6,242.8 83.2,241.1 84.8,240.9 86.4,240.1 88.0,239.1 89.6,237.6 91.2,237.5 91.9,236.4 97.2,230.1 102.4,230.1 108.8,232.2 114.0,239.6 115.2,240.1 116.8,239.8 118.4,243.2 120.0,244.7 121.6,245.4 123.2,245.6 124.8,245.9 126.4,246.3 128.0,248.4 129.6,247.9 131.2,248.0 132.8,251.3 134.4,248.9 136.0,246.6 137.6,244.4 139.2,243.7 140.8,247.3 142.4,249.3 144.0,246.8 145.6,246.0 147.2,247.3 148.8,248.1 150.4,249.4 152.0,248.2 153.6,247.0 155.2,248.8 156.8,246.9 158.4,245.6 160.0,245.9 161.6,247.1"/>
<polyline fill="none" stroke="#219090" stroke-width="1.15" stroke-linejoin="round" points="22.4,246.2 24.0,246.7 25.6,248.3 27.2,247.1 28.8,246.0 30.4,245.2 32.0,248.2 33.6,247.7 35.2,246.8 36.8,246.1 38.4,243.9 40.0,247.0 41.6,246.5 43.2,247.4 44.8,249.8 46.4,247.8 48.0,247.4 49.6,249.0 51.2,247.8 52.8,247.9 54.4,246.2 56.0,246.1 57.6,245.2 59.2,248.6 60.8,249.9 62.4,247.6 64.0,247.5 65.6,247.3 67.2,251.5 68.8,250.2 70.4,248.0 72.0,248.7 73.6,249.8 75.2,246.6 76.8,247.8 78.4,248.0 80.0,246.6 81.6,246.6 83.2,246.4 84.8,243.5 86.4,240.8 88.0,240.4 89.6,237.4 91.2,234.8 92.8,234.3 94.4,229.9 95.0,228.0 100.3,223.8 103.5,218.5 106.6,225.9 113.0,234.3 113.6,236.6 115.2,239.3 116.8,241.0 118.4,242.6 120.0,244.7 121.6,244.3 123.2,244.4 124.8,245.0 126.4,247.0 128.0,245.1 129.6,246.5 131.2,247.5 132.8,248.3 134.4,246.7 136.0,247.8 137.6,248.2 139.2,247.4 140.8,248.0 142.4,247.9 144.0,246.5 145.6,247.2 147.2,246.7 148.8,250.4 150.4,248.4 152.0,247.1 153.6,245.9 155.2,247.6 156.8,248.6 158.4,248.3 160.0,246.2 161.6,246.2"/>
<polyline fill="none" stroke="#1c1cff" stroke-width="1.15" stroke-linejoin="round" points="22.4,246.2 24.0,247.2 25.6,249.6 27.2,245.9 28.8,248.4 30.4,247.3 32.0,249.2 33.6,247.9 35.2,247.7 36.8,248.5 38.4,247.3 40.0,247.7 41.6,247.7 43.2,249.8 44.8,248.9 46.4,245.8 48.0,247.8 49.6,248.4 51.2,248.0 52.8,249.8 54.4,249.8 56.0,246.2 57.6,249.1 59.2,247.6 60.8,247.0 62.4,246.8 64.0,247.2 65.6,248.4 67.2,245.8 68.8,246.3 70.4,245.4 72.0,245.4 73.6,244.5 75.2,244.9 76.8,244.4 78.4,240.6 80.0,239.8 81.6,235.6 83.2,234.9 84.8,233.5 86.4,229.4 88.0,229.4 89.6,224.3 90.8,219.5 95.0,213.2 99.3,209.0 104.5,207.9 106.6,210.0 109.8,218.5 110.4,212.8 112.0,217.2 113.6,222.7 115.2,226.1 116.8,229.0 118.4,231.0 120.0,234.5 121.6,237.0 123.2,238.5 124.8,241.1 126.4,242.6 128.0,242.0 129.6,244.1 131.2,246.0 132.8,245.4 134.4,243.1 136.0,245.3 137.6,247.0 139.2,243.7 140.8,244.4 142.4,245.3 144.0,249.4 145.6,249.3 147.2,247.5 148.8,248.8 150.4,248.5 152.0,245.7 153.6,246.7 155.2,248.9 156.8,247.7 158.4,251.1 160.0,248.0 161.6,247.1"/>
<polyline fill="none" stroke="#ff1414" stroke-width="1.15" stroke-linejoin="round" points="22.4,245.8 24.0,246.7 25.6,247.8 27.2,245.2 28.8,246.5 30.4,251.3 32.0,246.8 33.6,246.5 35.2,247.9 36.8,244.8 38.4,247.0 40.0,249.3 41.6,248.0 43.2,246.1 44.8,247.5 46.4,246.7 48.0,247.9 49.6,248.0 51.2,247.7 52.8,246.6 54.4,249.7 56.0,248.8 57.6,249.0 59.2,248.5 60.8,247.6 62.4,248.5 64.0,248.2 65.6,248.1 67.2,247.8 68.8,246.6 70.4,246.6 72.0,246.3 73.6,246.3 75.2,242.8 76.8,243.1 78.4,236.5 80.0,234.6 81.6,233.4 83.2,229.2 84.8,226.5 86.4,218.8 88.0,214.3 89.6,209.7 90.8,205.8 95.0,200.5 98.2,198.4 101.4,197.4 103.5,201.6 106.6,209.0 107.2,212.5 108.8,217.0 110.4,219.5 112.0,224.2 113.6,228.0 115.2,231.7 116.8,235.4 118.4,239.3 120.0,238.8 121.6,244.4 123.2,245.2 124.8,248.4 126.4,248.9 128.0,247.7 129.6,248.0 131.2,249.2 132.8,246.9 134.4,249.1 136.0,248.4 137.6,248.4 139.2,247.3 140.8,247.8 142.4,246.8 144.0,246.4 145.6,248.2 147.2,249.4 148.8,248.8 150.4,246.2 152.0,247.2 153.6,247.1 155.2,247.6 156.8,247.0 158.4,247.1 160.0,248.3 161.6,247.8"/>
<polyline fill="none" stroke="#1e1e1e" stroke-width="1.15" stroke-linejoin="round" points="22.4,245.8 24.0,251.5 25.6,252.5 27.2,248.0 28.8,248.6 30.4,245.0 32.0,249.5 33.6,248.6 35.2,248.0 36.8,250.6 38.4,246.8 40.0,248.4 41.6,246.2 43.2,246.9 44.8,250.0 46.4,244.5 48.0,245.3 49.6,250.0 51.2,249.8 52.8,247.1 54.4,248.9 56.0,249.3 57.6,248.0 59.2,245.2 60.8,247.2 62.4,248.6 64.0,244.2 65.6,246.6 67.2,244.1 68.8,242.3 70.4,234.3 72.0,236.1 73.6,232.6 75.2,227.7 76.8,218.1 78.4,212.7 80.0,205.7 81.6,199.3 83.2,195.5 84.8,180.4 86.4,175.7 87.0,167.1 89.8,156.6 91.9,160.8 94.0,154.5 95.4,153.7 97.5,157.3 98.9,158.7 101.8,168.5 102.4,176.3 104.0,183.2 105.6,191.1 107.2,198.6 108.8,207.6 110.4,215.4 112.0,219.3 113.6,224.1 115.2,228.9 116.8,235.1 118.4,239.8 120.0,240.8 121.6,241.8 123.2,243.3 124.8,244.2 126.4,245.4 128.0,245.2 129.6,247.4 131.2,248.3 132.8,248.4 134.4,246.0 136.0,250.4 137.6,250.5 139.2,248.2 140.8,249.2 142.4,249.7 144.0,248.4 145.6,244.8 147.2,245.9 148.8,247.1 150.4,249.7 152.0,250.6 153.6,249.7 155.2,247.8 156.8,249.4 158.4,248.0 160.0,250.9 161.6,249.6"/>
<line x1="95.5" y1="149.7" x2="95.5" y2="252.2" stroke="#555" stroke-width="0.9"/>
<path d="M94.1,250.6 L96.9,250.6 L95.5,254.2 Z" fill="#555"/>
<line x1="126.4" y1="152.9" x2="139.4" y2="152.9" stroke="#1e1e1e" stroke-width="1.3"/>
<text x="159.2" y="155.0" font-size="5.7" font-weight="bold" text-anchor="end" fill="#111" stroke="#111" stroke-width="0.15">Ref</text>
<line x1="126.4" y1="160.2" x2="139.4" y2="160.2" stroke="#ff1414" stroke-width="1.3"/>
<text x="159.2" y="162.3" font-size="5.7" font-weight="bold" text-anchor="end" fill="#111" stroke="#111" stroke-width="0.15">1 min</text>
<line x1="126.4" y1="167.6" x2="139.4" y2="167.6" stroke="#1c1cff" stroke-width="1.3"/>
<text x="159.2" y="169.7" font-size="5.7" font-weight="bold" text-anchor="end" fill="#111" stroke="#111" stroke-width="0.15">2 min</text>
<line x1="126.4" y1="175.0" x2="139.4" y2="175.0" stroke="#219090" stroke-width="1.3"/>
<text x="159.2" y="177.1" font-size="5.7" font-weight="bold" text-anchor="end" fill="#111" stroke="#111" stroke-width="0.15">5 min</text>
<line x1="126.4" y1="182.3" x2="139.4" y2="182.3" stroke="#ff10ff" stroke-width="1.3"/>
<text x="159.2" y="184.4" font-size="5.7" font-weight="bold" text-anchor="end" fill="#111" stroke="#111" stroke-width="0.15">10 min</text>
<line x1="126.4" y1="189.7" x2="139.4" y2="189.7" stroke="#8a8a22" stroke-width="1.3"/>
<text x="159.2" y="191.8" font-size="5.7" font-weight="bold" text-anchor="end" fill="#111" stroke="#111" stroke-width="0.15">30 min</text>
<line x1="29.1" y1="167.2" x2="29.1" y2="188.2" stroke="#222" stroke-width="1"/>
<line x1="27.1" y1="167.2" x2="31.1" y2="167.2" stroke="#222" stroke-width="1"/>
<line x1="27.1" y1="188.2" x2="31.1" y2="188.2" stroke="#222" stroke-width="1"/>
<text x="32.3" y="180.5" font-size="9.1" fill="#111">2X10<tspan font-size="5.6" dy="-3.6">2</tspan></text>
<text x="0.0" y="153.8" font-family='"Liberation Serif", serif' font-size="12.0" font-weight="bold" fill="#111">(C)</text>
<text x="24.7" y="161.2" font-family='"Liberation Serif", serif' font-size="16" font-weight="bold" fill="#111">F</text>
<text x="38.3" y="161.2" font-family='"Liberation Serif", serif' font-size="16" font-weight="bold" font-style="italic" fill="#111">1s</text>
<rect x="187.2" y="145.8" width="142.3" height="113.2" fill="none" stroke="#6a6a6a" stroke-width="1"/>
<line x1="187.2" y1="259.0" x2="187.2" y2="256.5" stroke="#6a6a6a" stroke-width="0.9"/>
<line x1="187.2" y1="145.8" x2="187.2" y2="148.3" stroke="#6a6a6a" stroke-width="0.9"/>
<text x="187.2" y="268.4" font-size="9" text-anchor="middle" fill="#111">538</text>
<line x1="205.0" y1="259.0" x2="205.0" y2="257.4" stroke="#6a6a6a" stroke-width="0.9"/>
<line x1="205.0" y1="145.8" x2="205.0" y2="147.4" stroke="#6a6a6a" stroke-width="0.9"/>
<line x1="222.8" y1="259.0" x2="222.8" y2="256.5" stroke="#6a6a6a" stroke-width="0.9"/>
<line x1="222.8" y1="145.8" x2="222.8" y2="148.3" stroke="#6a6a6a" stroke-width="0.9"/>
<text x="222.8" y="268.4" font-size="9" text-anchor="middle" fill="#111">536</text>
<line x1="240.6" y1="259.0" x2="240.6" y2="257.4" stroke="#6a6a6a" stroke-width="0.9"/>
<line x1="240.6" y1="145.8" x2="240.6" y2="147.4" stroke="#6a6a6a" stroke-width="0.9"/>
<line x1="258.4" y1="259.0" x2="258.4" y2="256.5" stroke="#6a6a6a" stroke-width="0.9"/>
<line x1="258.4" y1="145.8" x2="258.4" y2="148.3" stroke="#6a6a6a" stroke-width="0.9"/>
<text x="258.4" y="268.4" font-size="9" text-anchor="middle" fill="#111">534</text>
<line x1="276.1" y1="259.0" x2="276.1" y2="257.4" stroke="#6a6a6a" stroke-width="0.9"/>
<line x1="276.1" y1="145.8" x2="276.1" y2="147.4" stroke="#6a6a6a" stroke-width="0.9"/>
<line x1="293.9" y1="259.0" x2="293.9" y2="256.5" stroke="#6a6a6a" stroke-width="0.9"/>
<line x1="293.9" y1="145.8" x2="293.9" y2="148.3" stroke="#6a6a6a" stroke-width="0.9"/>
<text x="293.9" y="268.4" font-size="9" text-anchor="middle" fill="#111">532</text>
<line x1="311.7" y1="259.0" x2="311.7" y2="257.4" stroke="#6a6a6a" stroke-width="0.9"/>
<line x1="311.7" y1="145.8" x2="311.7" y2="147.4" stroke="#6a6a6a" stroke-width="0.9"/>
<line x1="329.5" y1="259.0" x2="329.5" y2="256.5" stroke="#6a6a6a" stroke-width="0.9"/>
<line x1="329.5" y1="145.8" x2="329.5" y2="148.3" stroke="#6a6a6a" stroke-width="0.9"/>
<text x="329.5" y="268.4" font-size="9" text-anchor="middle" fill="#111">530</text>
<line x1="187.2" y1="148.1" x2="188.6" y2="148.1" stroke="#6a6a6a" stroke-width="0.9"/>
<line x1="187.2" y1="152.3" x2="189.6" y2="152.3" stroke="#6a6a6a" stroke-width="0.9"/>
<line x1="187.2" y1="156.4" x2="188.6" y2="156.4" stroke="#6a6a6a" stroke-width="0.9"/>
<line x1="187.2" y1="160.6" x2="189.6" y2="160.6" stroke="#6a6a6a" stroke-width="0.9"/>
<line x1="187.2" y1="164.8" x2="188.6" y2="164.8" stroke="#6a6a6a" stroke-width="0.9"/>
<line x1="187.2" y1="168.9" x2="189.6" y2="168.9" stroke="#6a6a6a" stroke-width="0.9"/>
<line x1="187.2" y1="173.1" x2="188.6" y2="173.1" stroke="#6a6a6a" stroke-width="0.9"/>
<line x1="187.2" y1="177.2" x2="189.6" y2="177.2" stroke="#6a6a6a" stroke-width="0.9"/>
<line x1="187.2" y1="181.4" x2="188.6" y2="181.4" stroke="#6a6a6a" stroke-width="0.9"/>
<line x1="187.2" y1="185.5" x2="189.6" y2="185.5" stroke="#6a6a6a" stroke-width="0.9"/>
<line x1="187.2" y1="189.7" x2="188.6" y2="189.7" stroke="#6a6a6a" stroke-width="0.9"/>
<line x1="187.2" y1="193.8" x2="189.6" y2="193.8" stroke="#6a6a6a" stroke-width="0.9"/>
<line x1="187.2" y1="198.0" x2="188.6" y2="198.0" stroke="#6a6a6a" stroke-width="0.9"/>
<line x1="187.2" y1="202.1" x2="189.6" y2="202.1" stroke="#6a6a6a" stroke-width="0.9"/>
<line x1="187.2" y1="206.3" x2="188.6" y2="206.3" stroke="#6a6a6a" stroke-width="0.9"/>
<line x1="187.2" y1="210.4" x2="189.6" y2="210.4" stroke="#6a6a6a" stroke-width="0.9"/>
<line x1="187.2" y1="214.6" x2="188.6" y2="214.6" stroke="#6a6a6a" stroke-width="0.9"/>
<line x1="187.2" y1="218.7" x2="189.6" y2="218.7" stroke="#6a6a6a" stroke-width="0.9"/>
<line x1="187.2" y1="222.9" x2="188.6" y2="222.9" stroke="#6a6a6a" stroke-width="0.9"/>
<line x1="187.2" y1="227.0" x2="189.6" y2="227.0" stroke="#6a6a6a" stroke-width="0.9"/>
<line x1="187.2" y1="231.2" x2="188.6" y2="231.2" stroke="#6a6a6a" stroke-width="0.9"/>
<line x1="187.2" y1="235.3" x2="189.6" y2="235.3" stroke="#6a6a6a" stroke-width="0.9"/>
<line x1="187.2" y1="239.5" x2="188.6" y2="239.5" stroke="#6a6a6a" stroke-width="0.9"/>
<line x1="187.2" y1="243.6" x2="189.6" y2="243.6" stroke="#6a6a6a" stroke-width="0.9"/>
<line x1="187.2" y1="247.8" x2="188.6" y2="247.8" stroke="#6a6a6a" stroke-width="0.9"/>
<line x1="187.2" y1="251.9" x2="189.6" y2="251.9" stroke="#6a6a6a" stroke-width="0.9"/>
<line x1="187.2" y1="256.1" x2="188.6" y2="256.1" stroke="#6a6a6a" stroke-width="0.9"/>
<text x="258.9" y="278.6" font-size="8.8" font-weight="bold" text-anchor="middle" fill="#111" stroke="#111" stroke-width="0.2">Binding Energy, eV</text>
<text transform="translate(182.2,202.9) rotate(-90)" font-size="9.20" font-weight="bold" text-anchor="middle" fill="#111" stroke="#111" stroke-width="0.2">Intensity, a.u.</text>
<polyline fill="none" stroke="#1e1e1e" stroke-width="1.15" stroke-linejoin="round" points="187.8,248.5 189.4,249.5 191.0,250.4 192.6,251.4 194.2,248.0 195.8,247.8 197.4,247.7 199.0,248.3 200.6,248.6 202.2,247.3 203.8,248.7 205.4,247.2 207.0,248.8 208.6,247.6 210.2,248.5 211.8,248.8 213.4,248.1 215.0,247.2 216.6,246.6 218.2,245.8 219.8,248.4 221.4,247.6 223.0,248.1 224.6,246.1 226.2,244.8 227.8,242.7 229.4,241.7 231.0,238.9 232.6,239.9 234.2,238.8 235.8,237.4 237.4,235.4 239.0,230.2 240.6,225.3 241.0,222.0 246.3,213.3 249.1,214.7 251.9,213.3 254.7,214.0 259.6,219.6 263.9,225.3 265.3,230.9 268.8,234.4 273.7,242.5 279.6,247.2 284.0,248.3 285.4,246.0 287.0,246.9 288.6,248.0 290.2,247.8 291.8,246.1 293.4,248.0 295.0,246.6 296.6,248.5 298.2,246.3 299.8,247.2 301.4,247.7 303.0,247.5 304.6,248.5 306.2,248.8 307.8,250.7 309.4,249.6 311.0,249.9 312.6,247.6 314.2,249.5 315.8,249.9 317.4,250.4 319.0,250.6 320.6,248.0 322.2,246.9 323.8,247.4 325.4,247.7 327.0,250.1 328.6,246.8"/>
<polyline fill="none" stroke="#ff1414" stroke-width="1.15" stroke-linejoin="round" points="187.8,248.2 189.4,248.1 191.0,248.1 192.6,248.9 194.2,248.1 195.8,246.4 197.4,247.9 199.0,247.7 200.6,247.5 202.2,247.8 203.8,247.9 205.4,248.8 207.0,248.4 208.6,247.5 210.2,246.3 211.8,245.6 213.4,246.7 215.0,247.9 216.6,246.5 218.2,245.7 219.8,245.9 221.4,243.5 223.0,243.6 224.6,244.0 226.2,243.8 227.8,241.7 229.4,240.8 231.0,239.3 232.6,238.1 234.2,234.1 235.8,233.1 237.4,228.6 239.0,223.8 240.6,222.3 242.2,218.9 243.8,216.8 245.4,212.8 247.0,206.4 248.6,203.7 250.2,197.9 251.8,194.2 253.0,190.0 258.2,181.8 260.5,184.0 263.0,182.5 267.7,192.5 267.8,193.0 269.4,197.3 271.0,200.9 272.6,205.5 274.2,210.7 275.8,216.8 277.4,220.9 279.0,227.8 280.6,229.0 282.2,231.3 283.8,236.3 285.4,240.1 287.0,241.5 288.6,243.4 290.2,245.5 291.8,245.2 293.4,244.2 295.0,245.5 296.6,247.9 298.2,246.1 299.8,247.4 301.4,248.2 303.0,247.8 304.6,248.9 306.2,249.2 307.8,251.1 309.4,249.7 311.0,248.0 312.6,247.8 314.2,247.5 315.8,249.4 317.4,248.2 319.0,248.4 320.6,249.4 322.2,248.1 323.8,248.1 325.4,246.6 327.0,247.0 328.6,247.8"/>
<polyline fill="none" stroke="#1c1cff" stroke-width="1.15" stroke-linejoin="round" points="187.8,250.1 189.4,249.3 191.0,249.2 192.6,249.5 194.2,247.6 195.8,246.3 197.4,246.5 199.0,248.1 200.6,249.2 202.2,248.3 203.8,246.4 205.4,248.9 207.0,246.3 208.6,246.6 210.2,246.6 211.8,247.4 213.4,248.3 215.0,245.6 216.6,245.9 218.2,246.7 219.8,245.0 221.4,245.3 223.0,245.5 224.6,243.4 226.2,242.3 227.8,242.8 229.4,241.9 231.0,241.1 232.6,241.8 234.2,239.0 235.8,236.0 237.4,232.0 239.0,230.4 240.6,225.6 242.2,223.9 243.8,219.9 245.4,211.8 247.0,207.0 248.6,203.4 250.2,198.5 251.8,192.8 253.4,188.2 254.0,188.0 259.9,180.6 263.0,183.5 267.7,187.7 267.8,190.0 269.4,194.6 271.0,196.8 272.6,199.9 274.2,203.2 275.8,207.4 277.4,212.5 279.0,217.3 280.6,221.1 282.2,222.8 283.8,226.7 285.4,229.7 287.0,231.9 288.6,230.9 290.2,234.7 291.8,236.9 293.4,240.1 295.0,240.1 296.6,241.6 298.2,242.6 299.8,244.4 301.4,244.9 303.0,245.6 304.6,246.6 306.2,246.6 307.8,246.6 309.4,245.7 311.0,246.1 312.6,248.6 314.2,247.0 315.8,247.1 317.4,246.8 319.0,246.5 320.6,243.6 322.2,248.1 323.8,246.3 325.4,246.0 327.0,248.5 328.6,245.2"/>
<polyline fill="none" stroke="#219090" stroke-width="1.15" stroke-linejoin="round" points="187.8,246.7 189.4,248.2 191.0,248.3 192.6,247.2 194.2,247.4 195.8,247.7 197.4,247.5 199.0,247.3 200.6,247.8 202.2,248.2 203.8,248.7 205.4,247.0 207.0,245.7 208.6,246.9 210.2,246.0 211.8,244.9 213.4,247.2 215.0,246.7 216.6,244.8 218.2,244.0 219.8,244.3 221.4,243.7 223.0,243.2 224.6,241.8 226.2,238.7 227.8,237.1 229.4,238.7 231.0,237.0 232.6,232.3 234.2,232.1 235.8,230.2 237.4,227.8 239.0,223.9 240.6,220.4 242.2,215.3 243.8,209.8 245.4,206.5 247.0,202.4 248.6,196.9 250.2,190.2 251.8,185.8 253.4,180.7 255.0,177.3 256.6,171.0 258.2,166.6 259.8,163.8 261.4,162.2 263.0,161.9 264.6,161.0 266.2,159.7 267.8,162.3 269.4,169.2 271.0,173.5 272.6,178.6 274.2,185.6 275.8,192.6 277.4,200.3 279.0,205.3 280.6,209.8 282.2,214.8 283.8,221.7 285.4,225.5 287.0,229.3 288.6,232.9 290.2,234.1 291.8,238.8 293.4,239.3 295.0,240.4 296.6,241.5 298.2,242.9 299.8,243.3 301.4,243.8 303.0,245.4 304.6,246.8 306.2,246.7 307.8,244.7 309.4,245.3 311.0,247.6 312.6,246.8 314.2,246.7 315.8,246.5 317.4,248.4 319.0,246.9 320.6,246.5 322.2,248.1 323.8,245.8 325.4,246.4 327.0,250.0 328.6,248.1"/>
<polyline fill="none" stroke="#ff10ff" stroke-width="1.15" stroke-linejoin="round" points="187.8,247.7 189.4,248.9 191.0,248.8 192.6,248.3 194.2,247.8 195.8,247.5 197.4,247.2 199.0,247.7 200.6,246.6 202.2,248.5 203.8,248.7 205.4,247.4 207.0,247.9 208.6,248.1 210.2,246.4 211.8,245.2 213.4,246.5 215.0,244.2 216.6,245.6 218.2,245.3 219.8,243.5 221.4,241.0 223.0,242.6 224.6,242.8 226.2,241.6 227.8,237.2 229.4,238.1 231.0,237.1 232.6,234.9 234.2,231.7 235.8,228.2 237.4,228.2 239.0,224.2 240.6,218.6 242.2,216.9 243.8,210.7 245.4,207.2 247.0,200.6 248.6,196.0 250.2,191.0 251.8,187.7 253.4,179.6 255.0,174.0 256.6,171.4 258.2,167.7 259.8,163.0 261.4,159.3 263.0,157.4 264.6,155.8 266.2,159.3 267.8,162.2 269.4,166.2 271.0,171.2 272.6,176.6 274.2,183.3 275.8,187.9 277.4,197.0 279.0,202.4 280.6,206.9 282.2,211.8 283.8,217.7 285.4,223.6 287.0,227.6 288.6,231.8 290.2,236.0 291.8,237.1 293.4,239.2 295.0,240.7 296.6,240.2 298.2,241.3 299.8,242.6 301.4,244.8 303.0,243.2 304.6,246.9 306.2,245.0 307.8,244.2 309.4,244.8 311.0,244.7 312.6,246.0 314.2,246.6 315.8,248.6 317.4,246.8 319.0,247.9 320.6,248.0 322.2,247.7 323.8,245.0 325.4,247.2 327.0,247.6 328.6,246.3"/>
<polyline fill="none" stroke="#8a8a22" stroke-width="1.15" stroke-linejoin="round" points="187.8,248.5 189.4,247.1 191.0,245.5 192.6,245.8 194.2,247.2 195.8,248.5 197.4,245.1 199.0,245.1 200.6,246.9 202.2,246.9 203.8,245.7 205.4,248.0 207.0,247.0 208.6,245.6 210.2,246.8 211.8,245.2 213.4,247.6 215.0,245.1 216.6,246.9 218.2,246.3 219.8,243.4 221.4,242.9 223.0,241.9 224.6,241.4 226.2,240.4 227.8,237.8 229.4,238.0 231.0,236.7 232.6,232.3 234.2,231.3 235.8,229.2 237.4,226.8 239.0,222.9 240.6,219.6 242.2,214.2 243.8,212.4 245.4,206.9 247.0,201.9 248.6,195.9 250.2,189.4 251.8,184.8 253.4,179.4 255.0,172.0 256.6,166.5 258.2,162.6 258.3,164.0 261.1,153.4 265.0,150.1 267.5,152.7 270.3,155.5 272.4,161.1 272.6,162.8 274.2,169.6 275.8,176.9 277.4,183.9 279.0,191.2 280.6,199.9 282.2,206.4 283.8,211.0 285.4,216.2 287.0,220.9 288.6,224.6 290.2,228.4 291.8,233.4 293.4,235.4 295.0,237.0 296.6,238.7 298.2,240.1 299.8,241.6 301.4,241.5 303.0,243.9 304.6,244.7 306.2,244.2 307.8,244.3 309.4,243.7 311.0,246.4 312.6,246.8 314.2,244.6 315.8,244.1 317.4,246.2 319.0,247.2 320.6,247.6 322.2,246.7 323.8,247.3 325.4,247.4 327.0,247.2 328.6,248.2"/>
<line x1="268.2" y1="147" x2="249.1" y2="221" stroke="#444" stroke-width="0.9"/>
<line x1="293.9" y1="150.9" x2="307.2" y2="150.9" stroke="#1e1e1e" stroke-width="1.3"/>
<text x="327.7" y="153.0" font-size="5.7" font-weight="bold" text-anchor="end" fill="#111" stroke="#111" stroke-width="0.15">Ref</text>
<line x1="293.9" y1="158.2" x2="307.2" y2="158.2" stroke="#ff1414" stroke-width="1.3"/>
<text x="327.7" y="160.3" font-size="5.7" font-weight="bold" text-anchor="end" fill="#111" stroke="#111" stroke-width="0.15">1 min</text>
<line x1="293.9" y1="165.6" x2="307.2" y2="165.6" stroke="#1c1cff" stroke-width="1.3"/>
<text x="327.7" y="167.7" font-size="5.7" font-weight="bold" text-anchor="end" fill="#111" stroke="#111" stroke-width="0.15">2 min</text>
<line x1="293.9" y1="172.9" x2="307.2" y2="172.9" stroke="#219090" stroke-width="1.3"/>
<text x="327.7" y="175.0" font-size="5.7" font-weight="bold" text-anchor="end" fill="#111" stroke="#111" stroke-width="0.15">5 min</text>
<line x1="293.9" y1="180.3" x2="307.2" y2="180.3" stroke="#ff10ff" stroke-width="1.3"/>
<text x="327.7" y="182.4" font-size="5.7" font-weight="bold" text-anchor="end" fill="#111" stroke="#111" stroke-width="0.15">10 min</text>
<line x1="293.9" y1="187.7" x2="307.2" y2="187.7" stroke="#8a8a22" stroke-width="1.3"/>
<text x="327.7" y="189.8" font-size="5.7" font-weight="bold" text-anchor="end" fill="#111" stroke="#111" stroke-width="0.15">30 min</text>
<line x1="198.3" y1="167.3" x2="198.3" y2="183.6" stroke="#222" stroke-width="1"/>
<line x1="196.3" y1="167.3" x2="200.3" y2="167.3" stroke="#222" stroke-width="1"/>
<line x1="196.3" y1="183.6" x2="200.3" y2="183.6" stroke="#222" stroke-width="1"/>
<text x="201.8" y="178.6" font-size="9.1" fill="#111">2X10<tspan font-size="5.6" dy="-3.6">2</tspan></text>
<text x="165.5" y="155.5" font-family='"Liberation Serif", serif' font-size="12.0" font-weight="bold" fill="#111">(D)</text>
<text x="191.1" y="160.8" font-family='"Liberation Serif", serif' font-size="16" font-weight="bold" fill="#111">O</text>
<text x="207.2" y="160.8" font-family='"Liberation Serif", serif' font-size="16" font-weight="bold" font-style="italic" fill="#111">1s</text>
</svg></body></html>
